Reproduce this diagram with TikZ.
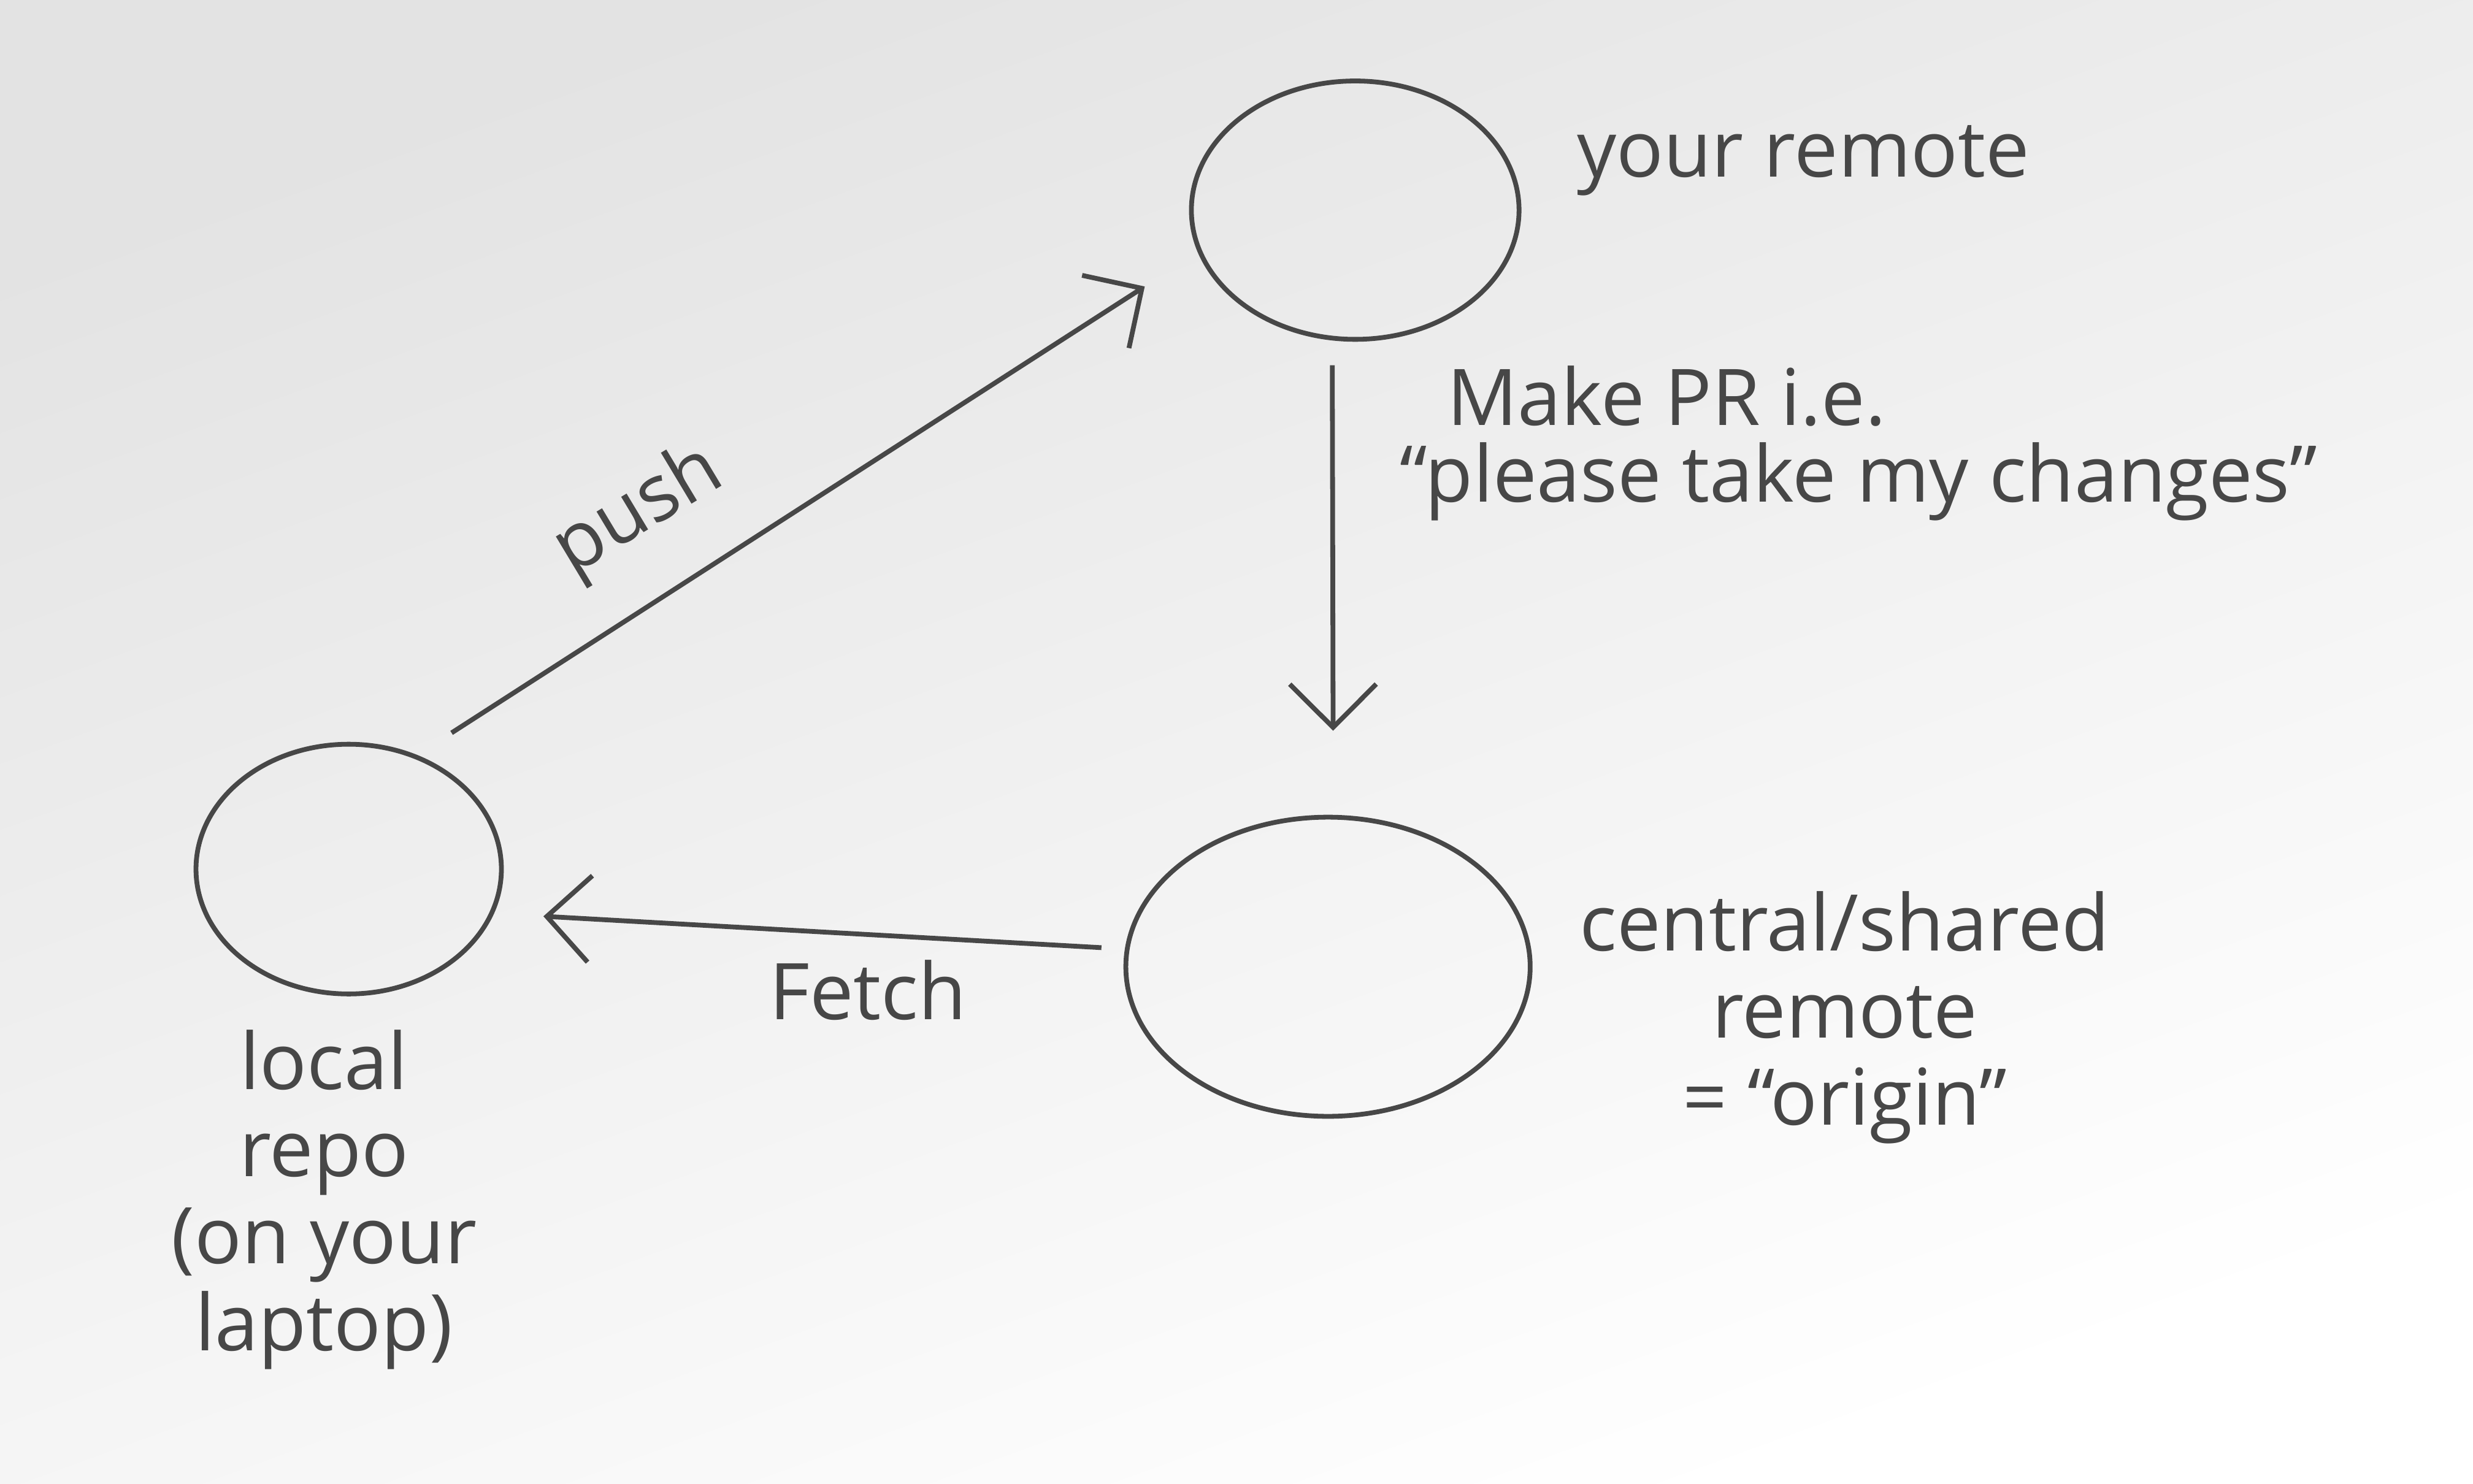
\documentclass[tikz,border=0pt]{standalone}
\usepackage{fontspec}
\setmainfont{Open Sans}
\usetikzlibrary{arrows.meta,positioning,shapes.geometric}

\begin{document}
\begin{tikzpicture}[font=\fontsize{18}{20}\selectfont,>={Straight Barb[length=3.5mm,width=7mm]},
  pencil/.style={draw=black!72,line width=1.1pt},
  repo/.style={pencil,ellipse,inner sep=0pt},
  flow/.style={pencil,->},
  note/.style={text=black!72}]
\shade[top color=black!11,bottom color=white,shading angle=20] (0,0) rectangle (20,12);
\useasboundingbox (0,0) rectangle (20,12);
% repositories
\node[repo,minimum width=2.65cm,minimum height=2.09cm] (yourremote) at (10.96,10.30) {};
\node[repo,minimum width=3.27cm,minimum height=2.42cm] (central) at (10.74,4.18) {};
\node[repo,minimum width=2.47cm,minimum height=2.02cm] (local) at (2.82,4.97) {};
% labels
\node[note,anchor=base west] (yourremotetxt) at (12.63,10.57) {your remote};
\node[note,anchor=base west] (prtxt) at (11.58,8.56) {Make PR i.e.};
\node[note,anchor=base west] (pleasetxt) at (11.20,7.94) {“please take my changes”};
\node[note,align=center] (centraltxt) at (14.92,3.77) {central/shared\\remote\\= “origin”};
\node[note,align=center,below=1.5mm of local,xshift=-2mm] (localtxt) {local\\repo\\(on your\\laptop)};
\node[note,rotate=31] (pushtxt) at (5.17,7.86) {push};
\node[note] (fetchtxt) at (7.02,3.99) {Fetch};
% arrows
\draw[flow,shorten <=0.33cm,shorten >=0.51cm] (local.59) -- (yourremote.195);
\draw[flow,shorten <=0.2cm,shorten >=0.68cm] (yourremote.260) -- (central.88);
\draw[flow,shorten <=0.19cm,shorten >=0.4cm] (central.175) -- (local.343);
\end{tikzpicture}
\end{document}
